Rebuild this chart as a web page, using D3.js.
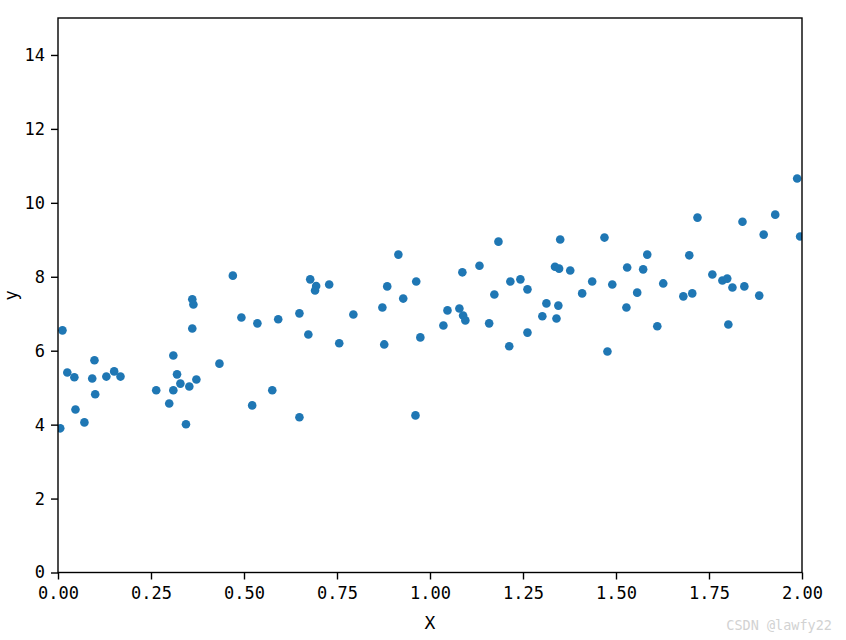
<!DOCTYPE html>
<html lang="en">
<head>
<meta charset="utf-8">
<title>X vs y scatter</title>
<script src="https://d3js.org/d3.v7.min.js"></script>
<style>
    body{
        margin: 0;
        background: #fff;
    }
    text{
        font-family: "DejaVu Sans Mono", "Liberation Mono", monospace;
        fill: #000;
    }
    .dot{
        fill: #1f77b4;
    }
    .watermark{
        fill: #d2d2d2;
        font-size: 13.5px;
    }
</style>
</head>
<body>
<svg width="846" height="640"></svg>
<script>
// points
var xs = [0.012, 0.006, 0.025, 0.044, 0.047, 0.071, 0.092, 0.098, 0.100, 0.130,
          0.151, 0.168, 0.264, 0.299, 0.310, 0.310, 0.320, 0.329, 0.344, 0.353,
          0.361, 0.364, 0.361, 0.372, 0.434, 0.470, 0.493, 0.536, 0.522, 0.576,
          0.592, 0.649, 0.649, 0.673, 0.678, 0.694, 0.691, 0.729, 0.756, 0.794,
          0.872, 0.877, 0.885, 0.915, 0.928, 0.961, 0.963, 0.974, 1.036, 1.047,
          1.079, 1.087, 1.089, 1.095, 1.133, 1.159, 1.173, 1.184, 1.213, 1.216,
          1.243, 1.262, 1.262, 1.302, 1.313, 1.340, 1.345, 1.336, 1.347, 1.350,
          1.377, 1.409, 1.436, 1.469, 1.477, 1.490, 1.528, 1.530, 1.557, 1.573,
          1.584, 1.611, 1.627, 1.681, 1.697, 1.705, 1.719, 1.759, 1.786, 1.799,
          1.802, 1.813, 1.840, 1.845, 1.885, 1.897, 1.928, 1.987, 1.995];
var ys = [6.55, 3.90, 5.41, 5.28, 4.41, 4.06, 5.25, 5.74, 4.82, 5.30,
          5.44, 5.30, 4.93, 4.57, 5.87, 4.93, 5.36, 5.11, 4.01, 5.03,
          7.39, 7.25, 6.60, 5.22, 5.65, 8.03, 6.90, 6.74, 4.52, 4.93,
          6.85, 7.01, 4.20, 6.44, 7.93, 7.75, 7.63, 7.79, 6.20, 6.98,
          7.17, 6.17, 7.74, 8.60, 7.41, 4.25, 7.87, 6.36, 6.68, 7.09,
          7.14, 8.12, 6.95, 6.82, 8.30, 6.74, 7.52, 8.95, 6.12, 7.87,
          7.93, 7.66, 6.49, 6.93, 7.28, 6.87, 7.22, 8.27, 8.22, 9.01,
          8.17, 7.55, 7.87, 9.06, 5.98, 7.79, 7.17, 8.25, 7.57, 8.20,
          8.60, 6.66, 7.82, 7.47, 8.58, 7.55, 9.60, 8.06, 7.90, 7.95,
          6.71, 7.71, 9.49, 7.74, 7.49, 9.14, 9.68, 10.66, 9.09];

var xTicks = [0, 0.25, 0.5, 0.75, 1, 1.25, 1.5, 1.75, 2];
var yTicks = [0, 2, 4, 6, 8, 10, 12, 14];

var svg = d3.select("svg"),
    margin = {top: 18, right: 44, bottom: 67.5, left: 58},
    width = +svg.attr("width") - margin.left - margin.right,
    height = +svg.attr("height") - margin.top - margin.bottom,
    g = svg.append("g").attr("transform", "translate(" + margin.left + "," + margin.top + ")");

var x = d3.scaleLinear().domain([0, 2]).range([0, width]);
var y = d3.scaleLinear().domain([0, 15]).range([height, 0]);

var data = xs.map(function(d, i) { return {x: d, y: ys[i]}; });

// dots first, clipped to the axes box
svg.append("clipPath").attr("id", "clip")
    .append("rect").attr("width", width).attr("height", height);

g.append("g")
    .attr("clip-path", "url(#clip)")
    .selectAll(".dot")
    .data(data)
    .enter().append("circle")
    .attr("class", "dot")
    .attr("cx", function(d) { return x(d.x); })
    .attr("cy", function(d) { return y(d.y); })
    .attr("r", 4.3);

var xAxis = g.append("g")
    .attr("transform", "translate(0," + height + ")")
    .call(d3.axisBottom(x).tickValues(xTicks).tickFormat(d3.format(".2f")).tickSize(7).tickPadding(7));

var yAxis = g.append("g")
    .call(d3.axisLeft(y).tickValues(yTicks).tickFormat(d3.format("d")).tickSize(7).tickPadding(6));

[xAxis, yAxis].forEach(function(a) {
    a.select(".domain").remove();
    a.selectAll("line").attr("stroke", "#000").attr("stroke-width", 1.4);
    a.selectAll("text").attr("font-size", "17px").attr("font-family", null);
});

// box
g.append("rect")
    .attr("width", width)
    .attr("height", height)
    .attr("fill", "none")
    .attr("stroke", "#000")
    .attr("stroke-width", 1.4);

g.append("text")
    .attr("x", width / 2)
    .attr("y", height + 56)
    .attr("text-anchor", "middle")
    .attr("font-size", "18px")
    .text("X");

g.append("text")
    .attr("transform", "rotate(-90)")
    .attr("x", -height / 2)
    .attr("y", -41.5)
    .attr("text-anchor", "middle")
    .attr("font-size", "17px")
    .text("y");

svg.append("text")
    .attr("class", "watermark")
    .attr("x", 832)
    .attr("y", 630)
    .attr("text-anchor", "end")
    .text("CSDN @lawfy22");
</script>
</body>
</html>
